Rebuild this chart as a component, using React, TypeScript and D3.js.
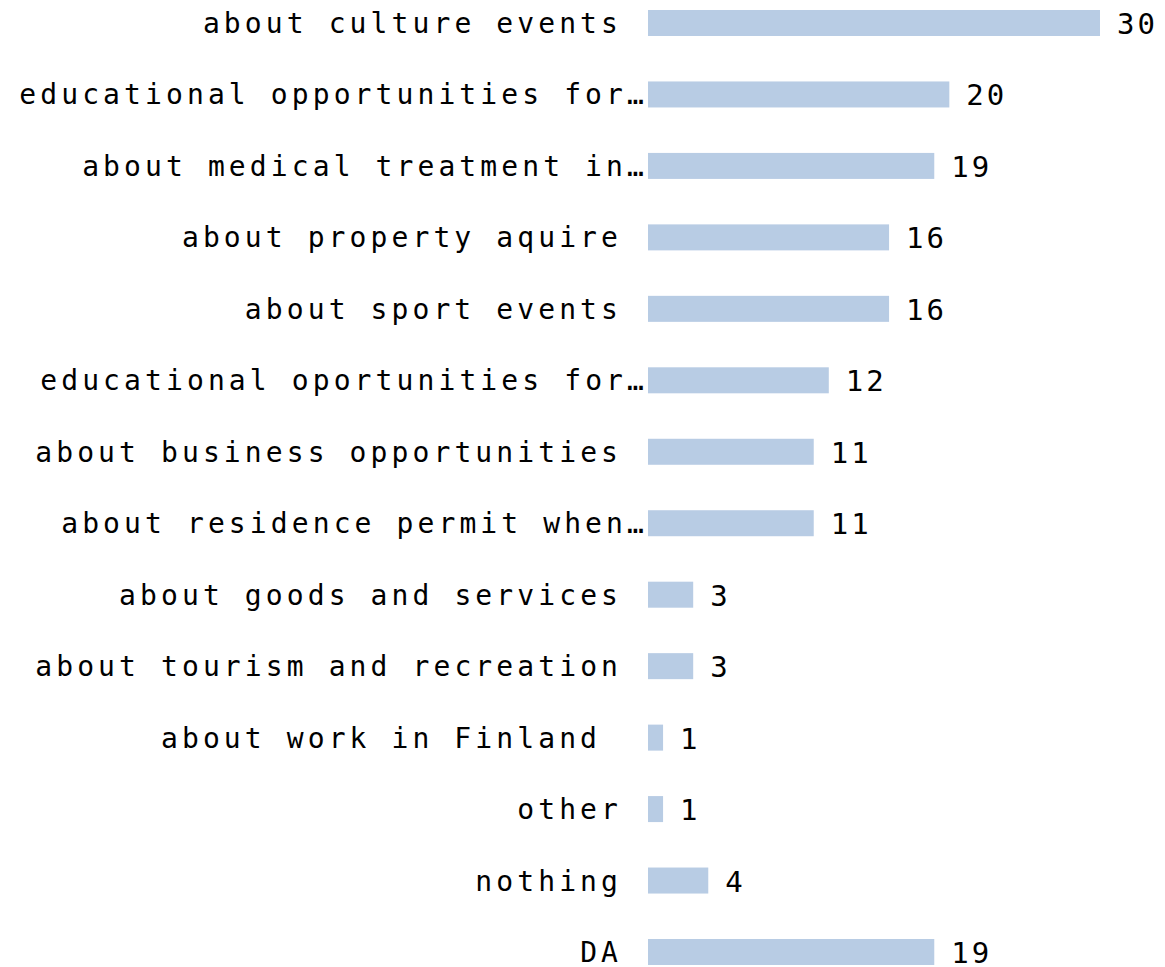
import { useMemo } from 'react';
import * as d3 from 'd3';

// trailing spaces are part of the original labels (truncated ones lost theirs)
const categories = [
  'about culture events ',
  'educational opportunities for…',
  'about medical treatment in…',
  'about property aquire ',
  'about sport events ',
  'educational oportunities for…',
  'about business opportunities ',
  'about residence permit when…',
  'about goods and services ',
  'about tourism and recreation ',
  'about work in Finland  ',
  'other ',
  'nothing ',
  'DA ',
];

const counts = [30, 20, 19, 16, 16, 12, 11, 11, 3, 3, 1, 1, 4, 19];

const W = 1165;
const H = 967;

export default function App() {
  const rows = useMemo(() => categories.map((c, i) => ({ label: c, value: counts[i] })), []);

  const y = d3.scalePoint<string>()
    .domain(categories)
    .range([23, 952]);

  const x = d3.scaleLinear()
    .domain([0, 30])
    .range([648, 1100]);

  const barH = 26;

  return (
    <svg
      width={W}
      height={H}
      style={{ position: 'absolute', left: 0, top: 0, background: '#fff' }}
    >
      {rows.map(d => {
        const cy = y(d.label) ?? 0;
        const truncated = d.label.endsWith('…');
        return (
          <g key={d.label}>
            <text
              x={truncated ? 648 : 643}
              y={cy + 10}
              textAnchor="end"
              fontFamily="'DejaVu Sans Mono', monospace"
              fontSize={28}
              letterSpacing={4.1}
              fill="#000"
              style={{ whiteSpace: 'pre' }}
            >
              {d.label}
            </text>
            <rect
              x={x(0)}
              y={cy - barH / 2}
              width={x(d.value) - x(0)}
              height={barH}
              fill="#b8cce4"
            />
            <text
              x={x(d.value) + 17}
              y={cy + 11}
              fontFamily="'DejaVu Sans Mono', monospace"
              fontSize={29}
              letterSpacing={3}
              fill="#000"
            >
              {d.value}
            </text>
          </g>
        );
      })}
    </svg>
  );
}
